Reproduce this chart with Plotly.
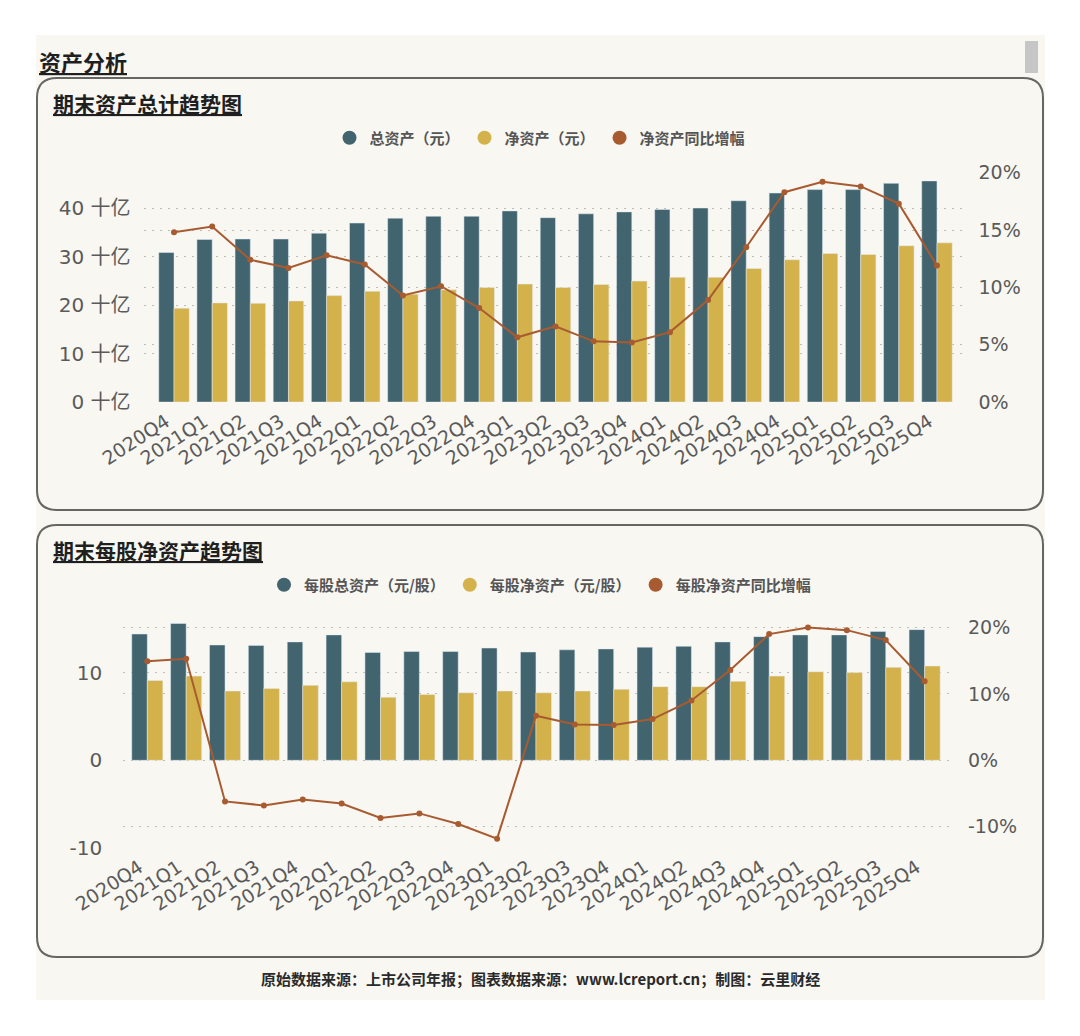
import plotly.graph_objects as go

W, H = 1080, 1036

quarters = ["2020Q4", "2021Q1", "2021Q2", "2021Q3", "2021Q4", "2022Q1", "2022Q2",
            "2022Q3", "2022Q4", "2023Q1", "2023Q2", "2023Q3", "2023Q4", "2024Q1",
            "2024Q2", "2024Q3", "2024Q4", "2025Q1", "2025Q2", "2025Q3", "2025Q4"]

# 期末资产 (十亿元)
total_assets = [30.9, 33.6, 33.7, 33.7, 34.9, 37.0, 38.0, 38.4, 38.4, 39.5, 38.1,
                38.9, 39.3, 39.8, 40.1, 41.6, 43.2, 43.9, 43.9, 45.2, 45.7]
net_assets = [19.4, 20.5, 20.4, 20.9, 22.0, 22.9, 22.3, 23.2, 23.7, 24.4, 23.7,
              24.3, 25.0, 25.8, 25.8, 27.6, 29.4, 30.7, 30.5, 32.3, 32.9]
net_assets_yoy = [14.8, 15.3, 12.4, 11.7, 12.8, 12.0, 9.3, 10.1, 8.2, 5.65, 6.6,
                  5.3, 5.2, 6.1, 8.9, 13.5, 18.3, 19.2, 18.8, 17.3, 11.9]

# 每股 (元/股)
total_per_share = [14.4, 15.6, 13.15, 13.1, 13.5, 14.3, 12.3, 12.4, 12.4, 12.8, 12.35,
                   12.6, 12.7, 12.9, 13.0, 13.5, 14.1, 14.3, 14.3, 14.7, 14.9]
net_per_share = [9.1, 9.6, 7.9, 8.2, 8.55, 8.95, 7.2, 7.5, 7.7, 7.9, 7.7,
                 7.9, 8.1, 8.4, 8.4, 9.0, 9.6, 10.1, 10.0, 10.6, 10.75]
net_per_share_yoy = [14.9, 15.3, -6.2, -6.8, -5.9, -6.5, -8.7, -8.0, -9.6, -11.8, 6.7,
                     5.4, 5.3, 6.2, 9.0, 13.6, 19.0, 20.0, 19.6, 18.1, 11.9]

# axis ticks
total_ticks = [0, 10, 20, 30, 40]
total_tick_text = ["0 十亿", "10 十亿", "20 十亿", "30 十亿", "40 十亿"]
pct_ticks_top = [0, 5, 10, 15, 20]
pct_text_top = ["0%", "5%", "10%", "15%", "20%"]
share_ticks = [-10, 0, 10]
share_tick_text = ["-10", "0", "10"]
pct_ticks_bottom = [-10, 0, 10, 20]
pct_text_bottom = ["-10%", "0%", "10%", "20%"]

TEAL = "#41646f"
GOLD = "#d4b24b"
RUST = "#a85b30"
CREAM = "#f8f7f2"
GRID = "#bdbdb6"
TICK = "#5a5a5a"
FONT = "DejaVu Sans, Noto Sans CJK SC, sans-serif"
CJK = "Noto Sans CJK SC, sans-serif"


def px(x):
    return x / W


def py(y):
    return 1 - y / H


def rounded_box(x0, y0, x1, y1, r=20):
    # path in paper coords, corners drawn with quadratic curves
    rx, ry = r / W, r / H
    X0, X1, Y0, Y1 = px(x0), px(x1), py(y1), py(y0)
    return (f"M{X0 + rx},{Y1} L{X1 - rx},{Y1} Q{X1},{Y1} {X1},{Y1 - ry} "
            f"L{X1},{Y0 + ry} Q{X1},{Y0} {X1 - rx},{Y0} L{X0 + rx},{Y0} "
            f"Q{X0},{Y0} {X0},{Y0 + ry} L{X0},{Y1 - ry} Q{X0},{Y1} {X0 + rx},{Y1} Z")


fig = go.Figure()

# -------------------------
# top panel: totals
# -------------------------
fig.add_trace(go.Bar(x=quarters, y=total_assets, marker_color=TEAL, name="总资产（元）",
                     showlegend=False, xaxis="x", yaxis="y", offsetgroup="a"))
fig.add_trace(go.Bar(x=quarters, y=net_assets, marker_color=GOLD, name="净资产（元）",
                     showlegend=False, xaxis="x", yaxis="y", offsetgroup="b"))
fig.add_trace(go.Scatter(x=quarters, y=net_assets_yoy, mode="lines+markers", name="净资产同比增幅",
                         line=dict(color=RUST, width=2), marker=dict(size=6, color=RUST),
                         showlegend=False, xaxis="x", yaxis="y3"))

# -------------------------
# bottom panel: per share
# -------------------------
fig.add_trace(go.Bar(x=quarters, y=total_per_share, marker_color=TEAL, name="每股总资产（元/股）",
                     showlegend=False, xaxis="x2", yaxis="y2", offsetgroup="a"))
fig.add_trace(go.Bar(x=quarters, y=net_per_share, marker_color=GOLD, name="每股净资产（元/股）",
                     showlegend=False, xaxis="x2", yaxis="y2", offsetgroup="b"))
fig.add_trace(go.Scatter(x=quarters, y=net_per_share_yoy, mode="lines+markers", name="每股净资产同比增幅",
                         line=dict(color=RUST, width=2), marker=dict(size=6, color=RUST),
                         showlegend=False, xaxis="x2", yaxis="y4"))

# legend entries drawn as round dots
for name, color, leg in [("总资产（元）", TEAL, "legend"), ("净资产（元）", GOLD, "legend"),
                         ("净资产同比增幅", RUST, "legend"),
                         ("每股总资产（元/股）", TEAL, "legend2"), ("每股净资产（元/股）", GOLD, "legend2"),
                         ("每股净资产同比增幅", RUST, "legend2")]:
    fig.add_trace(go.Scatter(x=[None], y=[None], mode="markers", name=name,
                             marker=dict(size=14, color=color), legend=leg,
                             xaxis="x" if leg == "legend" else "x2",
                             yaxis="y" if leg == "legend" else "y2"))

tickfont = dict(family=FONT, size=19, color=TICK)
xtickfont = dict(family=FONT, size=19, color=TICK)
grid = dict(showgrid=True, gridcolor=GRID, griddash="2px,6px", gridwidth=1.2, zeroline=False,
            showline=False, ticks="", tickmode="array", automargin=False)
xcommon = dict(type="category", tickangle=-33, tickfont=xtickfont, tickmode="array",
               tickvals=quarters, showgrid=False, showline=False, ticks="", automargin=False,
               ticklabelstandoff=4, ticklabelshift=-8)

legend_style = dict(orientation="h", xanchor="center", x=0.5, yanchor="middle",
                    bgcolor="rgba(0,0,0,0)", itemwidth=30, tracegroupgap=0,
                    font=dict(family=CJK, size=15, color="#555555", weight="bold"))

fig.update_layout(
    width=W, height=H,
    margin=dict(l=0, r=0, t=0, b=0, autoexpand=False),
    paper_bgcolor="white",
    plot_bgcolor="rgba(0,0,0,0)",
    barmode="group", bargap=0.2, bargroupgap=0,
    legend=dict(y=py(138), **legend_style),
    legend2=dict(y=py(585), **legend_style),
    xaxis=dict(domain=[px(143.5), px(967.5)], anchor="y", range=[-0.8, 20.8], **xcommon),
    yaxis=dict(domain=[py(402.1), py(172)], range=[0, 47.54], anchor="x",
               tickvals=total_ticks, ticktext=total_tick_text,
               tickfont=dict(family=FONT, size=20, color=TICK),
               ticklabelstandoff=12, **grid),
    yaxis3=dict(overlaying="y", side="right", anchor="x", range=[0, 20.06],
                tickvals=pct_ticks_top, ticktext=pct_text_top, tickfont=tickfont,
                ticklabelstandoff=10, **grid),
    xaxis2=dict(domain=[px(123.2), px(953)], anchor="y2", range=[-0.62, 20.73], **xcommon),
    yaxis2=dict(domain=[py(848), py(612)], range=[-10, 16.91], anchor="x2",
                tickvals=share_ticks, ticktext=share_tick_text,
                tickfont=dict(family=FONT, size=20, color=TICK),
                ticklabelstandoff=20, **grid),
    yaxis4=dict(overlaying="y2", side="right", anchor="x2", range=[-13.21, 22.33],
                tickvals=pct_ticks_bottom, ticktext=pct_text_bottom, tickfont=tickfont,
                ticklabelstandoff=14, **grid),
)

# page background, scrollbar and the two rounded panels
fig.add_shape(type="rect", xref="paper", yref="paper", x0=px(36), x1=px(1045),
              y0=py(1000), y1=py(35), fillcolor=CREAM, line_width=0, layer="below")
fig.add_shape(type="rect", xref="paper", yref="paper", x0=px(1025), x1=px(1038),
              y0=py(73), y1=py(41), fillcolor="#c6c6c6", line_width=0, layer="below")
for top, bottom in [(78, 510), (525, 957)]:
    fig.add_shape(type="path", xref="paper", yref="paper", path=rounded_box(37, top, 1043, bottom),
                  line=dict(color="#666662", width=2), layer="below")

ann = dict(xref="paper", yref="paper", showarrow=False)
fig.add_annotation(x=px(37), y=py(61), xanchor="left", yanchor="middle",
                   text="<b><u>资产分析</u></b>",
                   font=dict(family=CJK, size=22, color="#1f1f1f"), **ann)
fig.add_annotation(x=px(51), y=py(103), xanchor="left", yanchor="middle",
                   text="<b><u>期末资产总计趋势图</u></b>",
                   font=dict(family=CJK, size=21, color="#1f1f1f"), **ann)
fig.add_annotation(x=px(51), y=py(550), xanchor="left", yanchor="middle",
                   text="<b><u>期末每股净资产趋势图</u></b>",
                   font=dict(family=CJK, size=21, color="#1f1f1f"), **ann)
fig.add_annotation(x=0.5, y=py(978), xanchor="center", yanchor="middle",
                   text="<b>原始数据来源：上市公司年报；图表数据来源：www.lcreport.cn；制图：云里财经</b>",
                   font=dict(family=CJK, size=15, color="#2a2a2a"), **ann)

fig.write_html("out.html", config={"displayModeBar": False},
               post_script="document.body.style.margin='0';")
